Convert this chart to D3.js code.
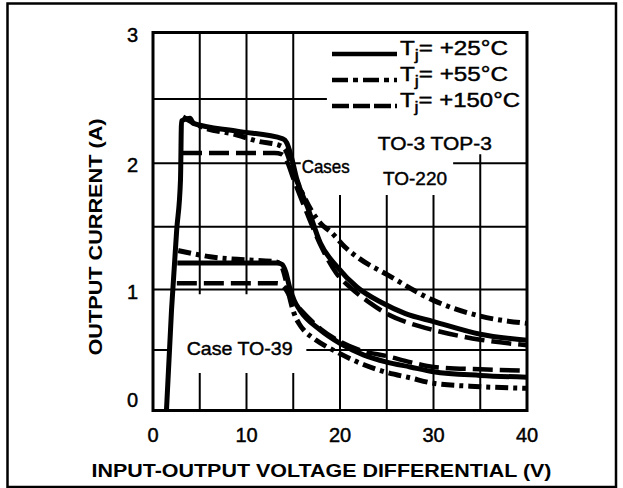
<!DOCTYPE html>
<html><head><meta charset="utf-8">
<script src="https://cdn.jsdelivr.net/npm/d3@7"></script>
<style>
body{margin:0;background:#fff}
svg{display:block}
text{font-family:Arial,"Liberation Sans",Helvetica,sans-serif;fill:#000}
text.heavy{stroke:#000;stroke-width:0.45px}
</style>
</head><body>
<svg id="chart" width="623" height="488"></svg>
<script>
// ---------- data ----------
const xTicks = [0, 10, 20, 30, 40];
const yTicks = [0, 1, 2, 3];
const xTitle = "INPUT-OUTPUT VOLTAGE DIFFERENTIAL (V)";
const yTitle = "OUTPUT CURRENT (A)";
const legendTemps = ["+25°C", "+55°C", "+150°C"];

// Cases TO-3, TOP-3, TO-220  ([V, A])
const to3_25C = [[1.44,0],[1.98,0.83],[2.53,1.47],[2.94,1.87],[3.05,2.33],[3.96,2.35],[4.31,2.31],[9,2.25],[13.9,2.19],[14.3,2.16],[14.8,2.05],[15.4,1.87],[16.5,1.66],[17.9,1.37],[19.7,1.18],[21.8,1.02],[24.5,0.89],[27,0.8],[30,0.735],[35,0.63],[40,0.58]];
const to3_55C = [[3.2,2.36],[5,2.29],[9,2.22],[11.3,2.17],[13.5,2.14],[14.2,2.1],[15,1.93],[16,1.76],[17,1.62],[18,1.52],[19,1.46],[20.5,1.34],[22,1.25],[25,1.12],[30,0.91],[35,0.78],[40,0.72]];
const to3_150C = [[3.1,2.08],[13,2.08],[13.8,2.07],[14.3,2.02],[15,1.88],[16.5,1.6],[18,1.34],[19.6,1.13],[21.2,1.01],[23.2,0.89],[25,0.8],[27.5,0.72],[30,0.665],[35,0.585],[40,0.54]];
// Case TO-39
const to39_25C = [[2.6,1.21],[13.3,1.21],[13.8,1.2],[14.2,1.14],[14.6,1.02],[15.1,0.91],[15.7,0.83],[17.9,0.665],[20,0.555],[22.5,0.46],[25,0.4],[27.5,0.36],[30,0.32],[35,0.29],[40,0.275]];
const to39_55C = [[2.7,1.31],[5,1.275],[6.1,1.26],[9,1.24],[13.2,1.22],[13.8,1.18],[14.2,1.08],[14.6,0.94],[15.1,0.8],[15.6,0.72],[16.3,0.65],[17.1,0.6],[20,0.47],[22.5,0.38],[25,0.315],[27.5,0.27],[30,0.225],[35,0.197],[40,0.183]];
const to39_150C = [[2.55,1.05],[12.3,1.05],[13.3,1.05],[14,1.02],[14.8,0.92],[15.7,0.84],[18,0.67],[20,0.57],[22.5,0.49],[25,0.45],[27.5,0.4],[30,0.36],[35,0.34],[40,0.33]];

// grid lines (data units): value and the spans where they are drawn
const vGrid = [
  {v:5,  spans:[[0,0.31],[0.96,3]]},
  {v:10, spans:[[0,0.31],[0.96,3]]},
  {v:15, spans:[[0,0.31],[0.96,3]]},
  {v:20, spans:[[0,1.75]]},
  {v:25, spans:[[0,1.75]]},
  {v:30, spans:[[0,1.75]]},
  {v:35, spans:[[0,2.07]]}
];
const hGrid = [
  {v:0.5, spans:[[0,1.65],[16.4,40]]},
  {v:1,   spans:[[0,40]]},
  {v:1.5, spans:[[0,40]]},
  {v:2,   spans:[[0,15.8],[32.1,40]]},
  {v:2.5, spans:[[0,18.6]]}
];
const annotations = [
  {text:"Cases",      v:15.9, a:1.925, len:48},
  {text:"TO-3 TOP-3", v:24.05, a:2.10, len:114},
  {text:"TO-220",     v:24.6, a:1.83, len:64},
  {text:"Case TO-39", v:3.6,  a:0.46, len:106}
];

// ---------- drawing ----------
const svg = d3.select("#chart");
const x = d3.scaleLinear().domain([0, 40]).range([153, 527]);
// scanned original is slightly non-uniform vertically; piecewise scale follows its grid
const y = d3.scaleLinear().domain([0, 0.5, 1, 1.5, 2, 2.5, 3]).range([410.5, 350, 289.5, 226.7, 163.3, 99, 32.5]);

// outer frame
svg.append("rect").attr("x", 7.5).attr("y", 3.5).attr("width", 608.5).attr("height", 483.5)
  .attr("fill", "none").attr("stroke", "#000").attr("stroke-width", 2.5);

// grid
const g = svg.append("g").attr("stroke", "#000").attr("stroke-width", 2);
vGrid.forEach(d => d.spans.forEach(s => {
  g.append("line").attr("x1", x(d.v)).attr("x2", x(d.v)).attr("y1", y(s[0])).attr("y2", y(s[1]));
}));
hGrid.forEach(d => d.spans.forEach(s => {
  g.append("line").attr("y1", y(d.v)).attr("y2", y(d.v)).attr("x1", x(s[0])).attr("x2", x(s[1]));
}));

// plot border
svg.append("rect").attr("x", x(0)).attr("y", y(3)).attr("width", x(40) - x(0)).attr("height", y(0) - y(3))
  .attr("fill", "none").attr("stroke", "#000").attr("stroke-width", 3);

// tick labels
svg.append("g").selectAll("text").data(xTicks).join("text").attr("class", "heavy")
  .attr("x", d => x(d)).attr("y", y(0) + 31).attr("text-anchor", "middle")
  .attr("font-size", 20).text(d => d);
svg.append("g").selectAll("text").data(yTicks).join("text").attr("class", "heavy")
  .attr("x", x(0) - 15).attr("y", d => Math.min(y(d) + 2, y(0) - 11))
  .attr("dominant-baseline", "central").attr("text-anchor", "end")
  .attr("font-size", 20).text(d => d);

// axis titles
svg.append("text").attr("x", 321.5).attr("y", 477).attr("text-anchor", "middle")
  .attr("font-size", 18).attr("font-weight", "bold")
  .attr("textLength", 460).attr("lengthAdjust", "spacingAndGlyphs").text(xTitle);
svg.append("text").attr("transform", "translate(102,237) rotate(-90)").attr("text-anchor", "middle")
  .attr("font-size", 18).attr("font-weight", "bold")
  .attr("textLength", 237).attr("lengthAdjust", "spacingAndGlyphs").text(yTitle);

// curves
const styles = [
  {w:5,   dash:null},
  {w:5,   dash:"13,5,4,5"},
  {w:4.5, dash:"20,7"}
];
const series = [
  {data:to3_25C, s:0}, {data:to3_55C, s:1}, {data:to3_150C, s:2},
  {data:to39_25C, s:0}, {data:to39_55C, s:1}, {data:to39_150C, s:2}
];
const line = d3.line().x(d => x(d[0])).y(d => y(d[1])).curve(d3.curveMonotoneX);
svg.append("g").selectAll("path").data(series).join("path")
  .attr("d", d => line(d.data)).attr("fill", "none").attr("stroke", "#000")
  .attr("stroke-width", d => styles[d.s].w)
  .attr("stroke-dasharray", d => styles[d.s].dash)
  .attr("stroke-linejoin", "round");

// annotations
svg.append("g").selectAll("text").data(annotations).join("text").attr("class", "heavy")
  .attr("x", d => x(d.v)).attr("y", d => y(d.a)).attr("font-size", 19)
  .attr("textLength", d => d.len).attr("lengthAdjust", "spacingAndGlyphs").text(d => d.text);

// legend
const legendDash = [null, "16,5,5,5", "17,4"];
const legendLen = [108, 108, 120];
const lg = svg.append("g");
legendTemps.forEach((t, i) => {
  const ly = 54 + i * 26;
  lg.append("line").attr("x1", 332).attr("x2", 397).attr("y1", ly).attr("y2", ly)
    .attr("stroke", "#000").attr("stroke-width", 4.5).attr("stroke-dasharray", legendDash[i]);
  const tx = lg.append("text").attr("class", "heavy").attr("x", 400).attr("y", ly + 1).attr("font-size", 20)
    .attr("textLength", legendLen[i]).attr("lengthAdjust", "spacingAndGlyphs");
  tx.append("tspan").text("T");
  tx.append("tspan").attr("font-size", 15).attr("dy", 5).text("j");
  tx.append("tspan").attr("dy", -5).text("= " + t);
});
</script>
</body></html>
